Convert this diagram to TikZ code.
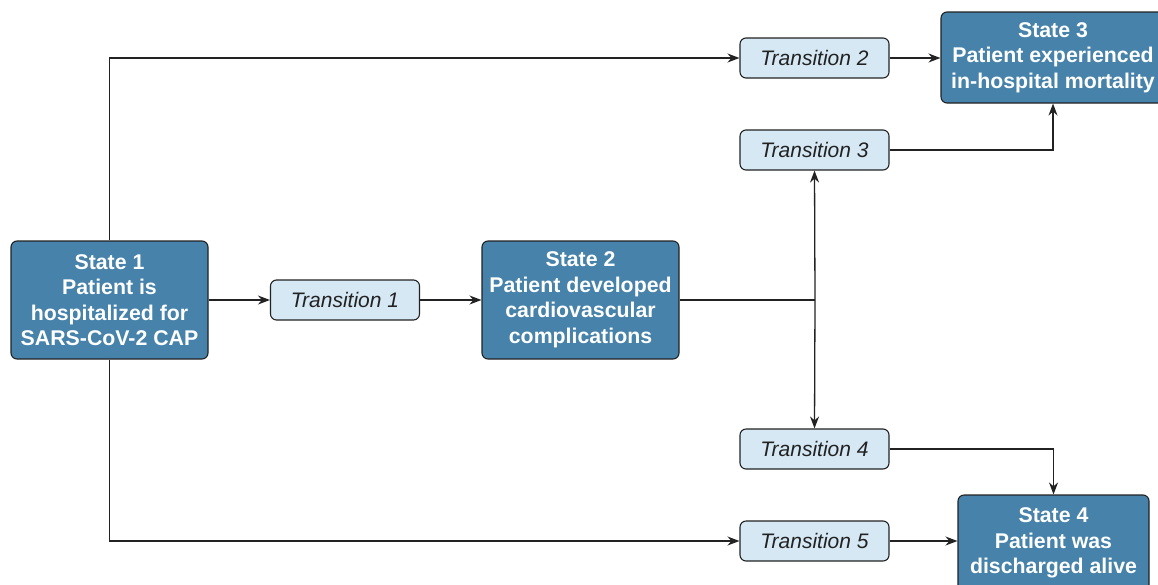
\documentclass[tikz,border=0pt]{standalone}
\usepackage{fontspec}
\setmainfont{Liberation Sans}
\usetikzlibrary{arrows.meta}
\definecolor{stfill}{HTML}{4682A9}
\definecolor{trfill}{HTML}{D5E8F4}
\definecolor{ln}{HTML}{222222}
\begin{document}
\begin{tikzpicture}[x=1pt,y=-1pt,
  statebox/.style={draw=ln,line width=1.1pt,fill=stfill,rounded corners=6pt,text=white,
    font=\fontsize{21.3}{25.5}\selectfont\bfseries,align=center,inner sep=0pt},
  transbox/.style={draw=ln,line width=1.1pt,fill=trfill,rounded corners=6pt,text=ln,
    font=\fontsize{21}{23}\selectfont\itshape,minimum width=149pt,minimum height=40pt,inner sep=0pt},
  conn/.style={draw=ln,line width=1.3pt},
  arr/.style={conn,-{Stealth[length=12pt,width=9pt]}}]
\useasboundingbox (0,0) rectangle (1158,584);
\node[statebox,minimum width=197pt,minimum height=118pt] (s1) at (109.5,300) {State 1\\Patient is\\hospitalized for\\SARS-CoV-2 CAP};
\node[transbox] (t1) at (345,300) {Transition 1};
\node[statebox,minimum width=197pt,minimum height=118pt] (s2) at (580.5,300) {State 2\\Patient developed\\cardiovascular\\complications};
\node[transbox] (t2) at (814.5,58) {Transition 2};
\node[transbox] (t3) at (814.5,150) {Transition 3};
\node[transbox] (t4) at (814.5,449) {Transition 4};
\node[transbox] (t5) at (814.5,541) {Transition 5};
\node[statebox,minimum width=224pt,minimum height=91pt] (s3) at (1053,57.5) {State 3\\Patient experienced\\in-hospital mortality};
\node[statebox,minimum width=191pt,minimum height=96pt] (s4) at (1053.5,543) {State 4\\Patient was\\discharged alive};
\coordinate (j) at (815,300);
\draw[arr] (s1.east) -- (t1.west);
\draw[arr] (t1.east) -- (s2.west);
\draw[conn] (s2.east) -- (j);
\draw[arr] (j) -- (t3.south);
\draw[arr] (j) -- (t4.north);
\draw[arr] (s1.north) |- (t2.west);
\draw[arr] (s1.south) |- (t5.west);
\draw[arr] (t2.east) -- (t2.east -| s3.west);
\draw[arr] (t3.east) -| (s3.south);
\draw[arr] (t4.east) -| (s4.north);
\draw[arr] (t5.east) -- (t5.east -| s4.west);
\end{tikzpicture}
\end{document}
